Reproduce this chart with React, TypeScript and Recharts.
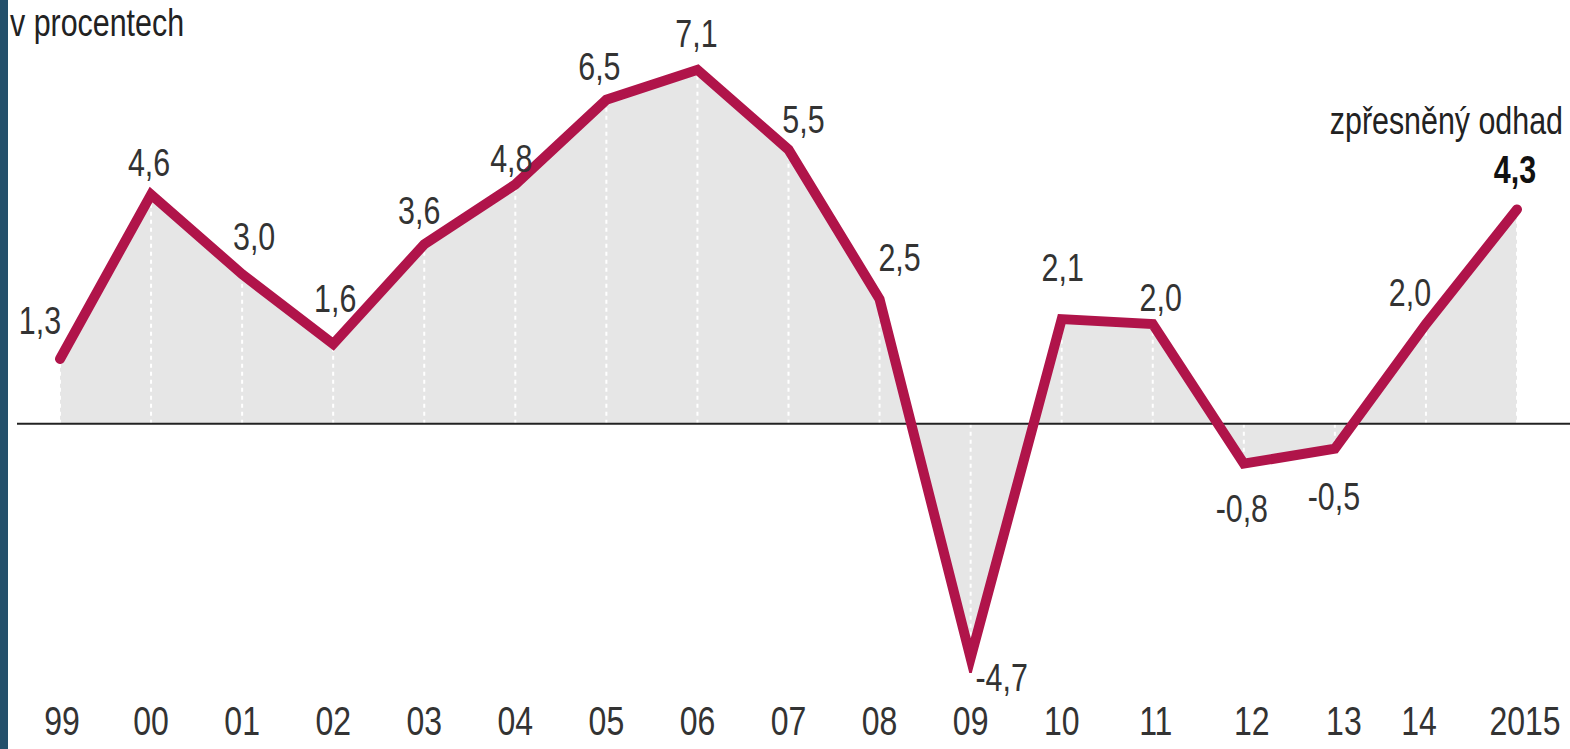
import React from 'react';
import { ComposedChart, Area, Line, XAxis, YAxis, ReferenceLine, LabelList, Customized } from 'recharts';

const years = ['99', '00', '01', '02', '03', '04', '05', '06', '07', '08', '09', '10', '11', '12', '13', '14', '2015'];
const growth = [1.3, 4.6, 3.0, 1.6, 3.6, 4.8, 6.5, 7.1, 5.5, 2.5, -4.7, 2.1, 2.0, -0.8, -0.5, 2.0, 4.3];
const unitLabel = 'v procentech';
const noteLabel = 'zpřesněný odhad';

// label placement offsets (dx, dy) relative to each point
const labelDx = [-20, -2, 12, 2, -5, -4, -7, -1, 15, 20, 31, 1, 8, -2, -1, -16, -2];
const labelDy = [-38, -32, -37, -45, -34, -26, -33, -36, -30, -41, 20, -51, -26, 45, 48, -31, -40];
const tickDx = [2, 0, 0, 0, 0, 0, 0, 0, 0, 0, 0, 0, 3, 8, 9, -7, 8];

const data = years.map((y, i) => ({ year: y, value: growth[i], idx: i }));

const FONT = '"Liberation Sans", Arial, sans-serif';
const LINE = '#b0144a';
const SX = 0.8;

const fmt = (v: number) => v.toFixed(1).replace('.', ',');

const NText = ({ x, y, children, anchor = 'middle', size = 38, weight = 'normal', fill = '#333', baseline }: any) => (
  <g transform={`translate(${x},${y}) scale(${SX},1)`}>
    <text
      x={0}
      y={0}
      textAnchor={anchor}
      dominantBaseline={baseline}
      fontFamily={FONT}
      fontSize={size}
      fontWeight={weight}
      fill={fill}
    >
      {children}
    </text>
  </g>
);

const ValueLabel = (props: any) => {
  const { x, y, value, index } = props;
  const last = index === growth.length - 1;
  return (
    <g>
      <NText
        x={x + labelDx[index]}
        y={y + labelDy[index]}
        baseline="central"
        weight={last ? 'bold' : 'normal'}
        fill={last ? '#111' : '#333'}
      >
        {fmt(value)}
      </NText>
      {last && (
        <NText x={x + 46} y={y - 75} anchor="end" fill="#222">
          {noteLabel}
        </NText>
      )}
    </g>
  );
};

const Tick = (props: any) => {
  const { x, y, payload, index } = props;
  return (
    <NText x={x + (tickDx[index] || 0)} y={y + 54} size={40}>
      {payload.value}
    </NText>
  );
};

const Extras = () => (
  <g>
    <rect x={0} y={0} width={8} height={749} fill="#24506b" />
    <NText x={10} y={36} anchor="start" size={38} fill="#222">{unitLabel}</NText>
  </g>
);

export default function App() {
  return (
    <div style={{ position: 'absolute', left: 0, top: 0, width: 1570, height: 749, background: '#fff' }}>
      <ComposedChart width={1570} height={749} data={data} margin={{ top: 25, right: 0, bottom: 16, left: 17 }}>
        <XAxis
          dataKey="year"
          scale="point"
          padding={{ left: 43, right: 53 }}
          axisLine={false}
          tickLine={false}
          height={60}
          tick={<Tick />}
          interval={0}
        />
        <YAxis hide domain={[-5, 8]} type="number" allowDataOverflow />
        <Area dataKey="value" fill="#e6e6e6" fillOpacity={1} stroke="none" isAnimationActive={false} baseValue={0} />
        {data.map((d) => (
          <ReferenceLine
            key={d.year}
            segment={[{ x: d.year, y: 0 }, { x: d.year, y: d.value }]}
            stroke="#ffffff"
            strokeWidth={2}
            strokeDasharray="4 4"
          />
        ))}
        <ReferenceLine y={0} stroke="#222" strokeWidth={2} />
        <Line
          dataKey="value"
          stroke={LINE}
          strokeWidth={10}
          strokeLinejoin="miter"
          strokeLinecap="round"
          dot={false}
          isAnimationActive={false}
        >
          <LabelList dataKey="value" content={<ValueLabel />} />
        </Line>
        <Customized component={Extras} />
      </ComposedChart>
    </div>
  );
}
